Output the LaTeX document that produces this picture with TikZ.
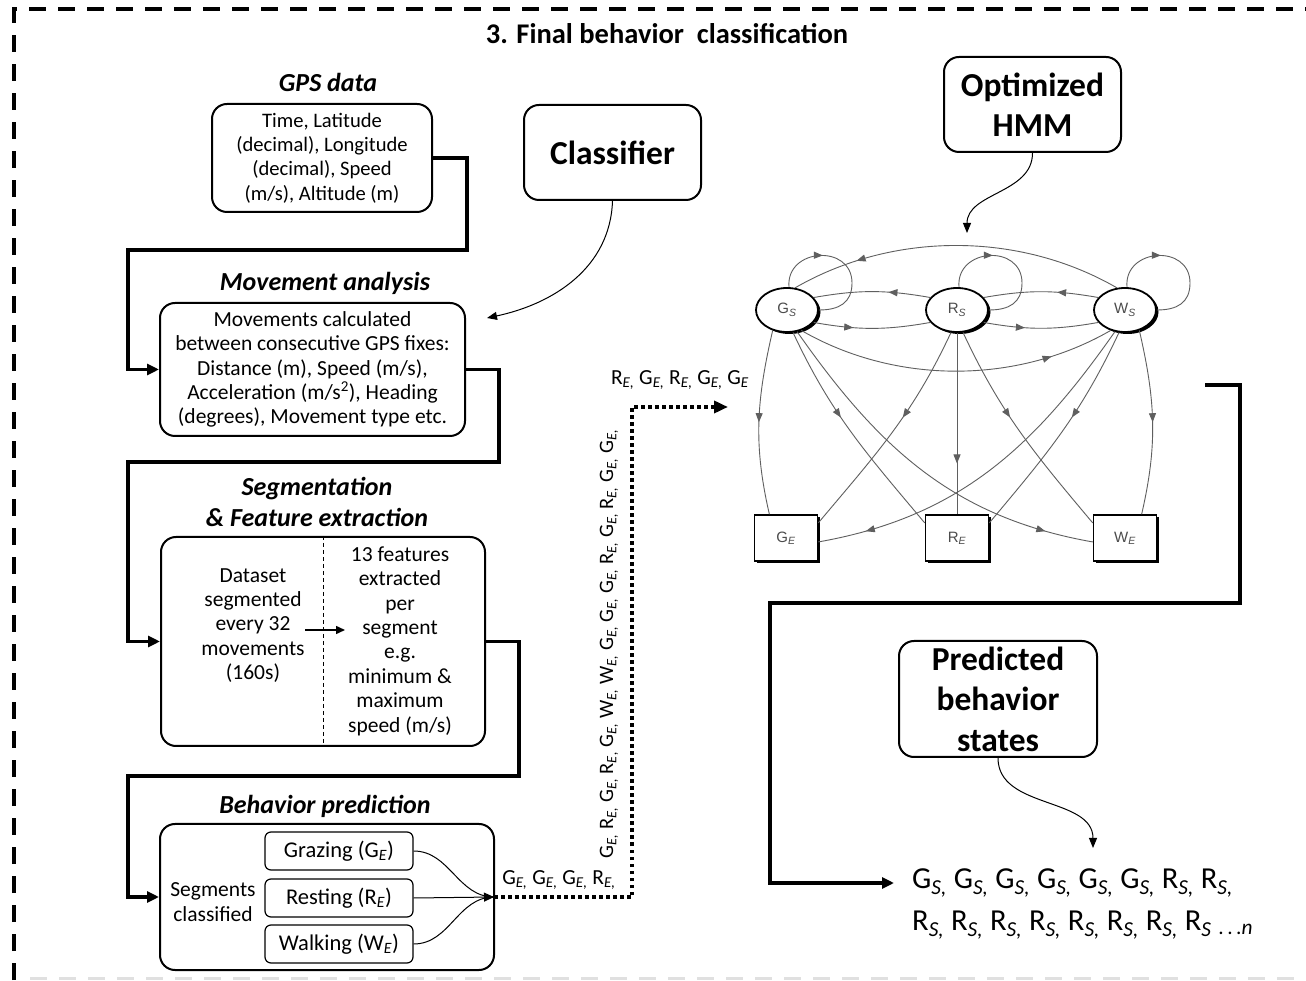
\documentclass[tikz,border=0pt]{standalone}
\usepackage{fontspec}
\setmainfont{Carlito}
\newfontfamily\arialf{Liberation Sans}
\usetikzlibrary{arrows.meta,decorations.markings,shadows,calc,shapes.geometric}
\newcommand\subE{\textsubscript{\textit{E}}}
\newcommand\subEc{\textsubscript{\textit{E,}}}
\newcommand\subS{\textsubscript{\textit{S}}}
\newcommand\subSc{\textsubscript{\textit{S,}}}
\newcommand\bodyfont{\fontsize{21.5}{24.4}\selectfont}
\newcommand\gpsfont{\fontsize{20.6}{24.4}\selectfont}
\definecolor{edgegray}{RGB}{95,95,95}
\begin{document}
\begin{tikzpicture}[x=1pt,y=1pt,
  rbox/.style={draw, line width=2pt, rounded corners=15pt, align=center, inner sep=0pt},
  sbox/.style={draw, line width=1.2pt, rounded corners=6pt, minimum width=148pt, minimum height=38pt, inner sep=0pt, font=\fontsize{22.5}{26}\selectfont},
  ttl/.style={font=\fontsize{26}{31}\selectfont\bfseries\itshape, align=center},
  bigb/.style={font=\fontsize{33.5}{40.5}\selectfont\bfseries},
  conn/.style={line width=3.5pt, -{Triangle[length=12pt,width=11pt]}},
  thincurve/.style={line width=1pt, -{Triangle[length=10pt,width=8pt]}},
  dotline/.style={line width=4pt, dash pattern=on 3.5pt off 3.5pt, -{Triangle[length=14pt,width=12pt]}},
  state/.style={ellipse, draw, line width=1.8pt, fill=white, minimum width=62pt, minimum height=44pt, inner sep=0pt,
     drop shadow={shadow xshift=2.5pt, shadow yshift=-2pt, fill=black, opacity=1}, font=\arialf\fontsize{15}{17}\selectfont, text=black!70},
  emis/.style={rectangle, draw, line width=1.5pt, fill=white, minimum width=63pt, minimum height=46pt, inner sep=0pt,
     drop shadow={shadow xshift=2.5pt, shadow yshift=-2pt, fill=black, opacity=1}, font=\arialf\fontsize{15}{17}\selectfont, text=black!70},
  hedge/.style={edgegray, line width=0.9pt, postaction={decorate},
     decoration={markings, mark=at position #1 with {\arrow{Triangle[length=9pt,width=7pt]}}}},
  hedge/.default=0.5,
  lbl/.style={font=\bodyfont, inner sep=0pt}
]
\useasboundingbox (0,0) rectangle (1306,980);
\fill[white] (0,0) rectangle (1306,980);

% frame
\draw[line width=4pt, dash pattern=on 17pt off 12pt] (14,0) -- (14,971) -- (1320,971);
\draw[line width=3pt, black!12, dash pattern=on 17pt off 12pt] (30,1.5) -- (1306,1.5);

% title
\node[font=\fontsize{28.5}{32}\selectfont\bfseries] (title) at (667,946) {3. Final behavior\ \ classification};

% GPS
\node[ttl] (gpst) at (328,898) {GPS data};
\node[rbox, minimum width=220pt, minimum height=108pt, font=\gpsfont] (gps) at (322,822)
  {Time, Latitude\\(decimal), Longitude\\(decimal), Speed\\(m/s), Altitude (m)};

% Classifier
\node[rbox, minimum width=177pt, minimum height=95pt, bigb] (cls) at (612.5,827.5) {Classifier};

% Movement
\node[ttl] (movt) at (325,697) {Movement analysis};
\node[rbox, minimum width=305pt, minimum height=133pt, font=\bodyfont] (mov) at (312.5,610.5)
  {Movements calculated\\between consecutive GPS fixes:\\Distance (m), Speed (m/s),\\Acceleration (m/s\textsuperscript{2}), Heading\\(degrees), Movement type etc.};

% Segmentation
\node[ttl] (segt) at (317,478) {Segmentation\\\& Feature extraction};
\node[rbox, minimum width=324pt, minimum height=209pt] (seg) at (323,338.5) {};
\draw[line width=0.8pt, dash pattern=on 4pt off 3pt] (seg.north) -- (seg.south);
\node[lbl, align=center] (segl) at (253,354.5) {Dataset\\segmented\\every 32\\movements\\(160s)};
\node[lbl, align=center] (segr) at (400,339) {13 features\\extracted\\per\\segment\\e.g.\\minimum \&\\maximum\\speed (m/s)};
\coordinate (sa) at (305,350);
\coordinate (sb) at (345,350);
\draw[line width=1.5pt, -{Triangle[length=9pt,width=8pt]}] (sa) -- (sb);

% Behavior prediction
\node[ttl] (bpt) at (325,174) {Behavior prediction};
\node[rbox, minimum width=334pt, minimum height=146pt] (bp) at (327,83) {};
\node[sbox] (gr) at (339,129) {Grazing (G\subE)};
\node[sbox] (rs) at (339,82) {Resting (R\subE)};
\node[sbox] (wk) at (339,36) {Walking (W\subE)};
\node[lbl, align=center] (segc) at (213,78) {Segments\\classified};
\coordinate (J) at (494,83);
\draw[line width=1pt] (gr.east) to[out=0,in=180] (J);
\draw[line width=1pt] (wk.east) to[out=0,in=180] (J);
\draw[line width=1pt, -{Triangle[length=10pt,width=9pt]}] (rs.east) -- (J);

% thick connectors
\coordinate (c1) at (128,730);
\coordinate (c2) at (128,518);
\coordinate (c3) at (128,204);
\draw[conn] (gps.east) -- ++(34,0) |- (c1) |- (mov.west);
\draw[conn] (mov.east) -- ++(33,0) |- (c2) |- (seg.west);
\draw[conn] (seg.east) -- ++(33,0) |- (c3) |- (bp.west);

% dotted output
\coordinate (d2) at (632,573);
\coordinate (dEnd) at (728,573);
\draw[dotline] (J) -| (d2) -- (dEnd);
\node[lbl] (lb1) at (559,100) {G\subEc\ G\subEc\ G\subEc\ R\subEc};
\node[inner sep=0pt, font=\fontsize{20.5}{24}\selectfont, rotate=90] (lb2) at (609,336) {G\subEc\ R\subEc\ G\subEc\ R\subEc\ G\subEc\ W\subEc\ W\subEc\ G\subEc\ G\subEc\ G\subEc\ R\subEc\ G\subEc\ R\subEc\ G\subEc\ G\subEc};
\node[lbl] (lb3) at (680,600) {R\subEc\ G\subEc\ R\subEc\ G\subEc\ G\subE};

% Optimized HMM
\node[rbox, minimum width=177pt, minimum height=95pt, bigb] (ohmm) at (1032.5,875.5) {Optimized\\HMM};
\coordinate (hmmin) at (967,747);
\draw[thincurve] (ohmm.south) to[out=270,in=90] (hmmin);

% Classifier curve
\coordinate (clsin) at (487,662);
\draw[thincurve] (cls.south) to[out=268,in=12] (clsin);

% HMM
\node[state] (GS) at (787,670) {G\textsubscript{\textit{S}}};
\node[state] (RS) at (957,670) {R\textsubscript{\textit{S}}};
\node[state] (WS) at (1125,670) {W\textsubscript{\textit{S}}};
\node[emis] (GE) at (786,442) {G\textsubscript{\textit{E}}};
\node[emis] (RE) at (957,442) {R\textsubscript{\textit{E}}};
\node[emis] (WE) at (1125,442) {W\textsubscript{\textit{E}}};

% self loops
\coordinate (GSl) at (852,697);
\coordinate (RSl) at (1022,697);
\coordinate (WSl) at (1190,697);
\draw[hedge=0.36] (GS.85) to[out=95,in=90,looseness=1.6] (GSl) to[out=270,in=0,looseness=1.2] (GS.east);
\draw[hedge=0.36] (RS.85) to[out=95,in=90,looseness=1.6] (RSl) to[out=270,in=0,looseness=1.2] (RS.east);
\draw[hedge=0.36] (WS.85) to[out=95,in=90,looseness=1.6] (WSl) to[out=270,in=0,looseness=1.2] (WS.east);
% transitions
\draw[hedge=0.36] (RS.155) to[out=170,in=10] (GS.25);
\draw[hedge=0.34] (GS.335) to[out=-10,in=190] (RS.205);
\draw[hedge=0.36] (WS.155) to[out=170,in=10] (RS.25);
\draw[hedge=0.36] (RS.335) to[out=-10,in=190] (WS.205);
\draw[hedge=0.8] (WS.110) to[out=150,in=30,looseness=0.9] (GS.70);
\draw[hedge=0.8] (GS.305) to[out=-30,in=210,looseness=0.9] (WS.235);
% emissions
\draw[hedge=0.5] (GS.235) to[out=257,in=103] (GE.125);
\draw[hedge=0.42] (GS.285) to[out=295,in=130] (RE.155);
\draw[hedge=0.87] (GS.295) to[out=305,in=170] (WE.187);
\draw[hedge=0.42] (RS.255) to[out=245,in=50] (GE.25);
\draw[hedge=0.72] (RS.south) -- (RE.north);
\draw[hedge=0.42] (RS.285) to[out=295,in=130] (WE.155);
\draw[hedge=0.87] (WS.245) to[out=235,in=10] (GE.353);
\draw[hedge=0.42] (WS.255) to[out=245,in=50] (RE.25);
\draw[hedge=0.5] (WS.305) to[out=283,in=77] (WE.55);

% Predicted behavior states
\node[rbox, minimum width=198pt, minimum height=116pt, bigb, align=center] (pbs) at (998,281) {Predicted\\behavior\\states};
\coordinate (seqarr) at (1093,132);
\draw[thincurve] (pbs.south) to[out=270,in=90] (seqarr);

\node[anchor=west, inner sep=0pt, font=\fontsize{30.5}{36}\selectfont] (seq1) at (912,97)
  {G\subSc\ G\subSc\ G\subSc\ G\subSc\ G\subSc\ G\subSc\ R\subSc\ R\subSc};
\node[anchor=west, inner sep=0pt, font=\fontsize{30.5}{36}\selectfont] (seq2) at (912,55)
  {R\subSc\ R\subSc\ R\subSc\ R\subSc\ R\subSc\ R\subSc\ R\subSc\ R\subS\ \textsubscript{.\,.\,.\textit{n}}};

% HMM output connector
\coordinate (hout) at (1205,595);
\coordinate (c4) at (770,377);
\coordinate (seqin) at (894,97);
\draw[conn] (hout) -- ++(35,0) |- (c4) |- (seqin);
\end{tikzpicture}
\end{document}
